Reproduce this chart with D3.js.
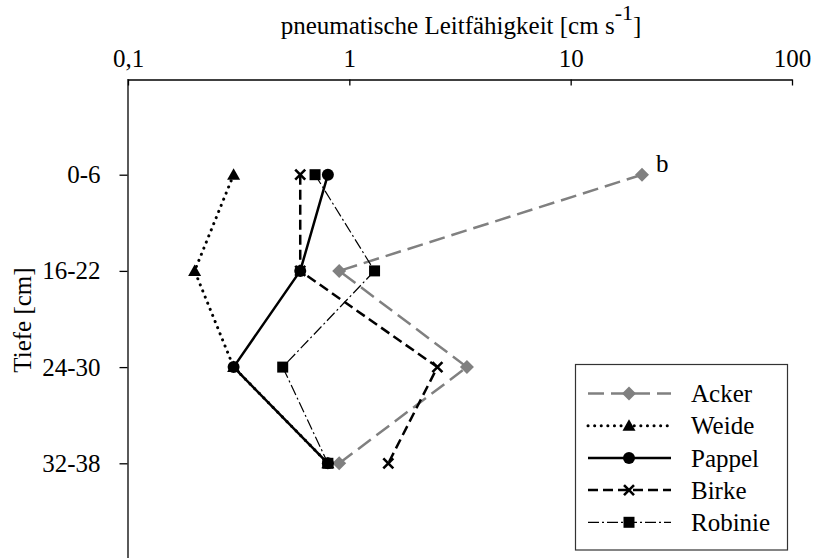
<!DOCTYPE html>
<html><head><meta charset="utf-8">
<script src="https://cdn.jsdelivr.net/npm/d3@7"></script>
<style>body{margin:0;background:#fff}svg{display:block} svg text{font-family:"Liberation Serif","Tinos","Times New Roman","DejaVu Serif",serif !important;}</style>
</head><body>
<script>
const categories = ["0-6","16-22","24-30","32-38"];
const seriesNames = ["Acker","Weide","Pappel","Birke","Robinie"];
const acker   = [21, 0.9, 3.4, 0.9];
const weide   = [0.3, 0.2, 0.3, 0.8];
const pappel  = [0.8, 0.6, 0.3, 0.8];
const birke   = [0.6, 0.6, 2.5, 1.5];
const robinie = [0.7, 1.3, 0.5, 0.8];
const xTicks = [0.1, 1, 10, 100];
const xTickLabels = ["0,1","1","10","100"];
const xTitle = "pneumatische Leitfähigkeit [cm s";
const yTitle = "Tiefe [cm]";
const annotation = "b";

const values = [acker, weide, pappel, birke, robinie];
const styles = [
  {color:"#808080", width:2.5, dash:"16,7", cap:"butt", marker:"diamond"},
  {color:"#000", width:3, dash:"0.1,6.5", cap:"round", marker:"triangle"},
  {color:"#000", width:2.5, dash:null, cap:"butt", marker:"circle"},
  {color:"#000", width:2.5, dash:"10,5", cap:"butt", marker:"x"},
  {color:"#000", width:1.2, dash:"11,3,2,3", cap:"butt", marker:"square"}
];

const W = 813, H = 558;
const svg = d3.select("body").append("svg").attr("width",W).attr("height",H);

const x = d3.scaleLog().domain([0.1,100]).range([128,792]);
const y = d3.scaleLinear().domain([0,5]).range([78.5,559.5]);

// axes
const gx = svg.append("g").attr("transform","translate(0,79.5)")
  .call(d3.axisTop(x).tickValues(xTicks).tickFormat((d,i)=>xTickLabels[i])
    .tickSizeInner(-6).tickSizeOuter(0).tickPadding(13));
const gy = svg.append("g").attr("transform","translate(127.5,0)")
  .call(d3.axisLeft(y).tickValues(categories.map((c,i)=>i+1)).tickFormat((d)=>categories[d-1])
    .tickSizeInner(8).tickSizeOuter(0).tickPadding(19));
[gx,gy].forEach(g=>{
  g.attr("font-family",null).attr("font-size",25);
  g.selectAll("path,line").attr("stroke","#000").attr("stroke-width",1.3);
  g.selectAll("text").attr("fill","#000");
});

// titles
const t = svg.append("text").attr("x",461).attr("y",33.5).attr("text-anchor","middle")
  .attr("font-size",25).attr("fill","#000");
t.append("tspan").text(xTitle);
t.append("tspan").attr("dy",-14).attr("font-size",22).text("-1");
t.append("tspan").attr("dy",14).text("]");

svg.append("text").attr("transform","translate(31,320) rotate(-90)")
  .attr("text-anchor","middle").attr("font-size",25).attr("fill","#000").text(yTitle);

// markers
function markerPath(type){
  switch(type){
    case "diamond": return "M0,-7L7,0L0,7L-7,0Z";
    case "triangle": return "M0,-6.5L6.5,5L-6.5,5Z";
    case "square": return "M-5.5,-5.5H5.5V5.5H-5.5Z";
    case "x": return "M-5,-5L5,5M-5,5L5,-5";
    default: return null;
  }
}
function drawMarker(g, type, color, cx, cy){
  if(type==="circle"){
    g.append("circle").attr("cx",cx).attr("cy",cy).attr("r",6).attr("fill",color);
  } else if(type==="x"){
    g.append("path").attr("d",markerPath(type)).attr("transform",`translate(${cx},${cy})`)
      .attr("stroke",color).attr("stroke-width",2.6).attr("fill","none");
  } else {
    g.append("path").attr("d",markerPath(type)).attr("transform",`translate(${cx},${cy})`)
      .attr("fill",color);
  }
}

const line = d3.line().x(d=>x(d.v)).y(d=>y(d.i+1));
values.forEach((vals,s)=>{
  const st = styles[s];
  const pts = vals.map((v,i)=>({v,i}));
  const g = svg.append("g");
  g.append("path").datum(pts).attr("d",line).attr("fill","none")
    .attr("stroke",st.color).attr("stroke-width",st.width)
    .attr("stroke-dasharray",st.dash).attr("stroke-linecap",st.cap)
    .attr("stroke-linejoin","round");
  pts.forEach(p=>drawMarker(g, st.marker, st.color, x(p.v), y(p.i+1)));
});

// annotation
svg.append("text").attr("x",x(acker[0])+14).attr("y",y(1)-3).attr("font-size",25)
  .attr("fill","#000").text(annotation);

// legend
const lg = svg.append("g");
lg.append("rect").attr("x",575.5).attr("y",364.5).attr("width",212).attr("height",185.5)
  .attr("fill","#fff").attr("stroke","#333").attr("stroke-width",1.2);
seriesNames.forEach((name,i)=>{
  const st = styles[i];
  const ly = 393.5 + i*32.2;
  const row = lg.append("g");
  row.append("line").attr("x1",588).attr("x2",671).attr("y1",ly).attr("y2",ly)
    .attr("stroke",st.color).attr("stroke-width",st.width)
    .attr("stroke-dasharray",st.dash).attr("stroke-linecap",st.cap);
  drawMarker(row, st.marker, st.color, 629, ly);
  row.append("text").attr("x",691).attr("y",ly).attr("dy","0.35em").attr("font-size",25)
    .attr("fill","#000").text(name);
});
</script>
</body></html>
